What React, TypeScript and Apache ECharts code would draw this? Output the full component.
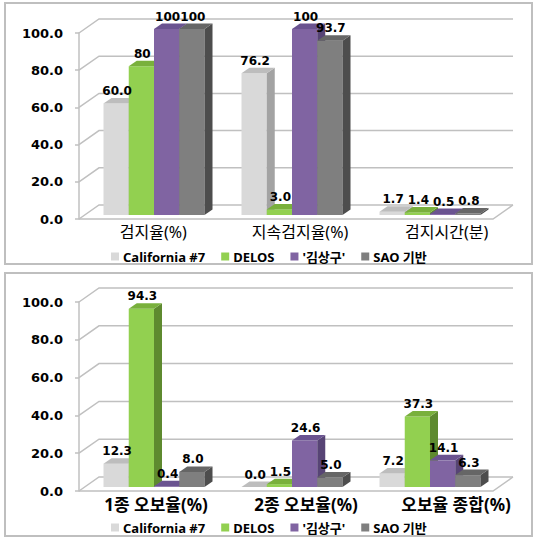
import React, { useEffect, useRef } from "react";
import * as echarts from "echarts";

const seriesNames = ["California #7", "DELOS", "'김상구'", "SAO 기반"];
const topCategories = ["검지율(%)", "지속검지율(%)", "검지시간(분)"];
const bottomCategories = ["1종 오보율(%)", "2종 오보율(%)", "오보율 종합(%)"];
const yTicks = [0, 20, 40, 60, 80, 100];

// top panel values
const topCalifornia = [60.0, 76.2, 1.7];
const topDelos = [80, 3.0, 1.4];
const topKim = [100, 100, 0.5];
const topSao = [100, 93.7, 0.8];
const topCaliforniaLabels = ["60.0", "76.2", "1.7"];
const topDelosLabels = ["80", "3.0", "1.4"];
const topKimLabels = ["100", "100", "0.5"];
const topSaoLabels = ["100", "93.7", "0.8"];

// bottom panel values
const bottomCalifornia = [12.3, 0.0, 7.2];
const bottomDelos = [94.3, 1.5, 37.3];
const bottomKim = [0.4, 24.6, 14.1];
const bottomSao = [8.0, 5.0, 6.3];
const bottomCaliforniaLabels = ["12.3", "0.0", "7.2"];
const bottomDelosLabels = ["94.3", "1.5", "37.3"];
const bottomKimLabels = ["0.4", "24.6", "14.1"];
const bottomSaoLabels = ["8.0", "5.0", "6.3"];

const frontColors = ["#d9d9d9", "#92d050", "#8064a2", "#7f7f7f"];
const topColors = ["#bdbdbd", "#79b03c", "#6a5390", "#666666"];
const sideColors = ["#a3a3a3", "#5e8a2f", "#574475", "#4d4d4d"];

const NUM_FONT = "'DejaVu Sans', Verdana, sans-serif";
const TXT_FONT = "'Noto Sans', 'Noto Sans CJK KR', sans-serif";
const GRID_COLOR = "#c0c0c0";

const WALL_DX = 20;
const WALL_DY = 14;
const BAR_SHIFT_X = 6;
const BAR_SHIFT_Y = 4;
const BAR_DX = 8;
const BAR_DY = 5.5;

function barRender(k: number, labels: string[]) {
  return (params: any, api: any) => {
    const cat = api.value(0);
    const v = api.value(1);
    const base = api.coord([cat, 0]);
    const top = api.coord([cat, v]);
    const band = api.size([1, 0])[0];
    const w = band * 0.183;
    const x0 = base[0] + BAR_SHIFT_X - 2 * w + k * w;
    const yb = base[1] - BAR_SHIFT_Y;
    const yt = top[1] - BAR_SHIFT_Y;
    const children: any[] = [];
    if (yb - yt > 0.01) {
      children.push({
        type: "rect",
        shape: { x: x0, y: yt, width: w, height: yb - yt },
        style: { fill: frontColors[k] },
      });
      children.push({
        type: "polygon",
        shape: {
          points: [
            [x0 + w, yt],
            [x0 + w + BAR_DX, yt - BAR_DY],
            [x0 + w + BAR_DX, yb - BAR_DY],
            [x0 + w, yb],
          ],
        },
        style: { fill: sideColors[k] },
      });
    }
    children.push({
      type: "polygon",
      shape: {
        points: [
          [x0, yt],
          [x0 + BAR_DX, yt - BAR_DY],
          [x0 + w + BAR_DX, yt - BAR_DY],
          [x0 + w, yt],
        ],
      },
      style: { fill: topColors[k] },
    });
    children.push({
      type: "text",
      z2: 100,
      style: {
        text: labels[params.dataIndex],
        x: x0 + w / 2 + 1,
        y: yt - BAR_DY - 1,
        align: "center",
        verticalAlign: "bottom",
        fill: "#000",
        fontFamily: NUM_FONT,
        fontWeight: "bold",
        fontSize: 12,
      },
    });
    return { type: "group", children };
  };
}

function wallRender(params: any, api: any) {
  const cs = params.coordSys;
  const L = cs.x;
  const R = cs.x + cs.width;
  const v = api.value(1);
  const y = api.coord([0, v])[1];
  const children: any[] = [
    {
      type: "polyline",
      shape: {
        points: [
          [L, y],
          [L + WALL_DX, y - WALL_DY],
          [R + WALL_DX, y - WALL_DY],
        ],
      },
      style: { stroke: GRID_COLOR, lineWidth: 1.5, fill: "none" },
    },
  ];
  if (v === 0) {
    children.push({
      type: "polyline",
      shape: {
        points: [
          [L, y],
          [R, y],
          [R + WALL_DX, y - WALL_DY],
        ],
      },
      style: { stroke: GRID_COLOR, lineWidth: 1.5, fill: "none" },
    });
  }
  return { type: "group", children };
}

function panelSeries(gridIdx: number, values: number[][], labels: string[][]) {
  const out: any[] = [
    {
      type: "custom",
      xAxisIndex: gridIdx,
      yAxisIndex: gridIdx,
      z: 1,
      silent: true,
      renderItem: wallRender,
      data: yTicks.map((t) => [0, t]),
      encode: { x: 0, y: 1 },
    },
  ];
  values.forEach((vals, k) => {
    out.push({
      type: "custom",
      name: seriesNames[k],
      xAxisIndex: gridIdx,
      yAxisIndex: gridIdx,
      z: 2,
      itemStyle: { color: frontColors[k] },
      renderItem: barRender(k, labels[k]),
      data: vals.map((v, i) => [i, v]),
      encode: { x: 0, y: 1 },
    });
  });
  return out;
}

function valueAxis(gridIndex: number) {
  return {
    type: "value",
    gridIndex,
    min: 0,
    max: 100,
    interval: 20,
    axisLine: { show: true, lineStyle: { color: GRID_COLOR, width: 1.5 } },
    axisTick: { show: true, length: 4, lineStyle: { color: GRID_COLOR, width: 1.5 } },
    splitLine: { show: false },
    axisLabel: {
      formatter: (v: number) => v.toFixed(1),
      fontFamily: NUM_FONT,
      fontWeight: "bold",
      fontSize: 13,
      color: "#000",
      margin: 16,
    },
  };
}

function legend(top: number) {
  return {
    top,
    left: 106,
    orient: "horizontal",
    icon: "rect",
    itemWidth: 8,
    itemHeight: 8,
    itemGap: 16,
    selectedMode: false,
    textStyle: { fontFamily: TXT_FONT, fontWeight: "bold", fontSize: 13, color: "#000", padding: [0, 0, 0, -1] },
    data: seriesNames.map((n, i) => ({ name: n, itemStyle: { color: frontColors[i] } })),
  };
}

export default function App() {
  const ref = useRef<HTMLDivElement>(null);
  useEffect(() => {
    if (!ref.current) return;
    const chart = echarts.init(ref.current, null, { renderer: "svg" });
    const option: any = {
      animation: false,
      backgroundColor: "#fff",
      grid: [
        { left: 79, top: 33, width: 414, height: 186 },
        { left: 79, top: 302, width: 414, height: 189 },
        { left: 80, top: 231, width: 440, height: 1 },
        { left: 81, top: 503, width: 450, height: 1 },
      ],
      xAxis: [
        { type: "category", gridIndex: 0, data: topCategories, show: false },
        { type: "category", gridIndex: 1, data: bottomCategories, show: false },
        {
          type: "category",
          gridIndex: 2,
          data: topCategories,
          axisLine: { show: false },
          axisTick: { show: false },
          axisLabel: { margin: 0, verticalAlign: "middle", fontFamily: TXT_FONT, fontSize: 16, color: "#000" },
        },
        {
          type: "category",
          gridIndex: 3,
          data: bottomCategories,
          axisLine: { show: false },
          axisTick: { show: false },
          axisLabel: { margin: 0, verticalAlign: "middle", fontFamily: TXT_FONT, fontSize: 17, fontWeight: "bold", color: "#000" },
        },
      ],
      yAxis: [
        valueAxis(0),
        valueAxis(1),
        { type: "value", gridIndex: 2, show: false },
        { type: "value", gridIndex: 3, show: false },
      ],
      legend: [legend(245), legend(516)],
      graphic: [
        {
          type: "rect",
          shape: { x: 5, y: 3, width: 527, height: 261 },
          style: { fill: "none", stroke: "#bfbfbf", lineWidth: 2 },
        },
        {
          type: "rect",
          shape: { x: 5, y: 273, width: 527, height: 263 },
          style: { fill: "none", stroke: "#bfbfbf", lineWidth: 2 },
        },
      ],
      series: [
        ...panelSeries(
          0,
          [topCalifornia, topDelos, topKim, topSao],
          [topCaliforniaLabels, topDelosLabels, topKimLabels, topSaoLabels]
        ),
        ...panelSeries(
          1,
          [bottomCalifornia, bottomDelos, bottomKim, bottomSao],
          [bottomCaliforniaLabels, bottomDelosLabels, bottomKimLabels, bottomSaoLabels]
        ),
      ],
    };
    chart.setOption(option);
    return () => chart.dispose();
  }, []);
  return (
    <div
      ref={ref}
      style={{ position: "absolute", left: 0, top: 0, width: 535, height: 538, background: "#fff" }}
    />
  );
}
